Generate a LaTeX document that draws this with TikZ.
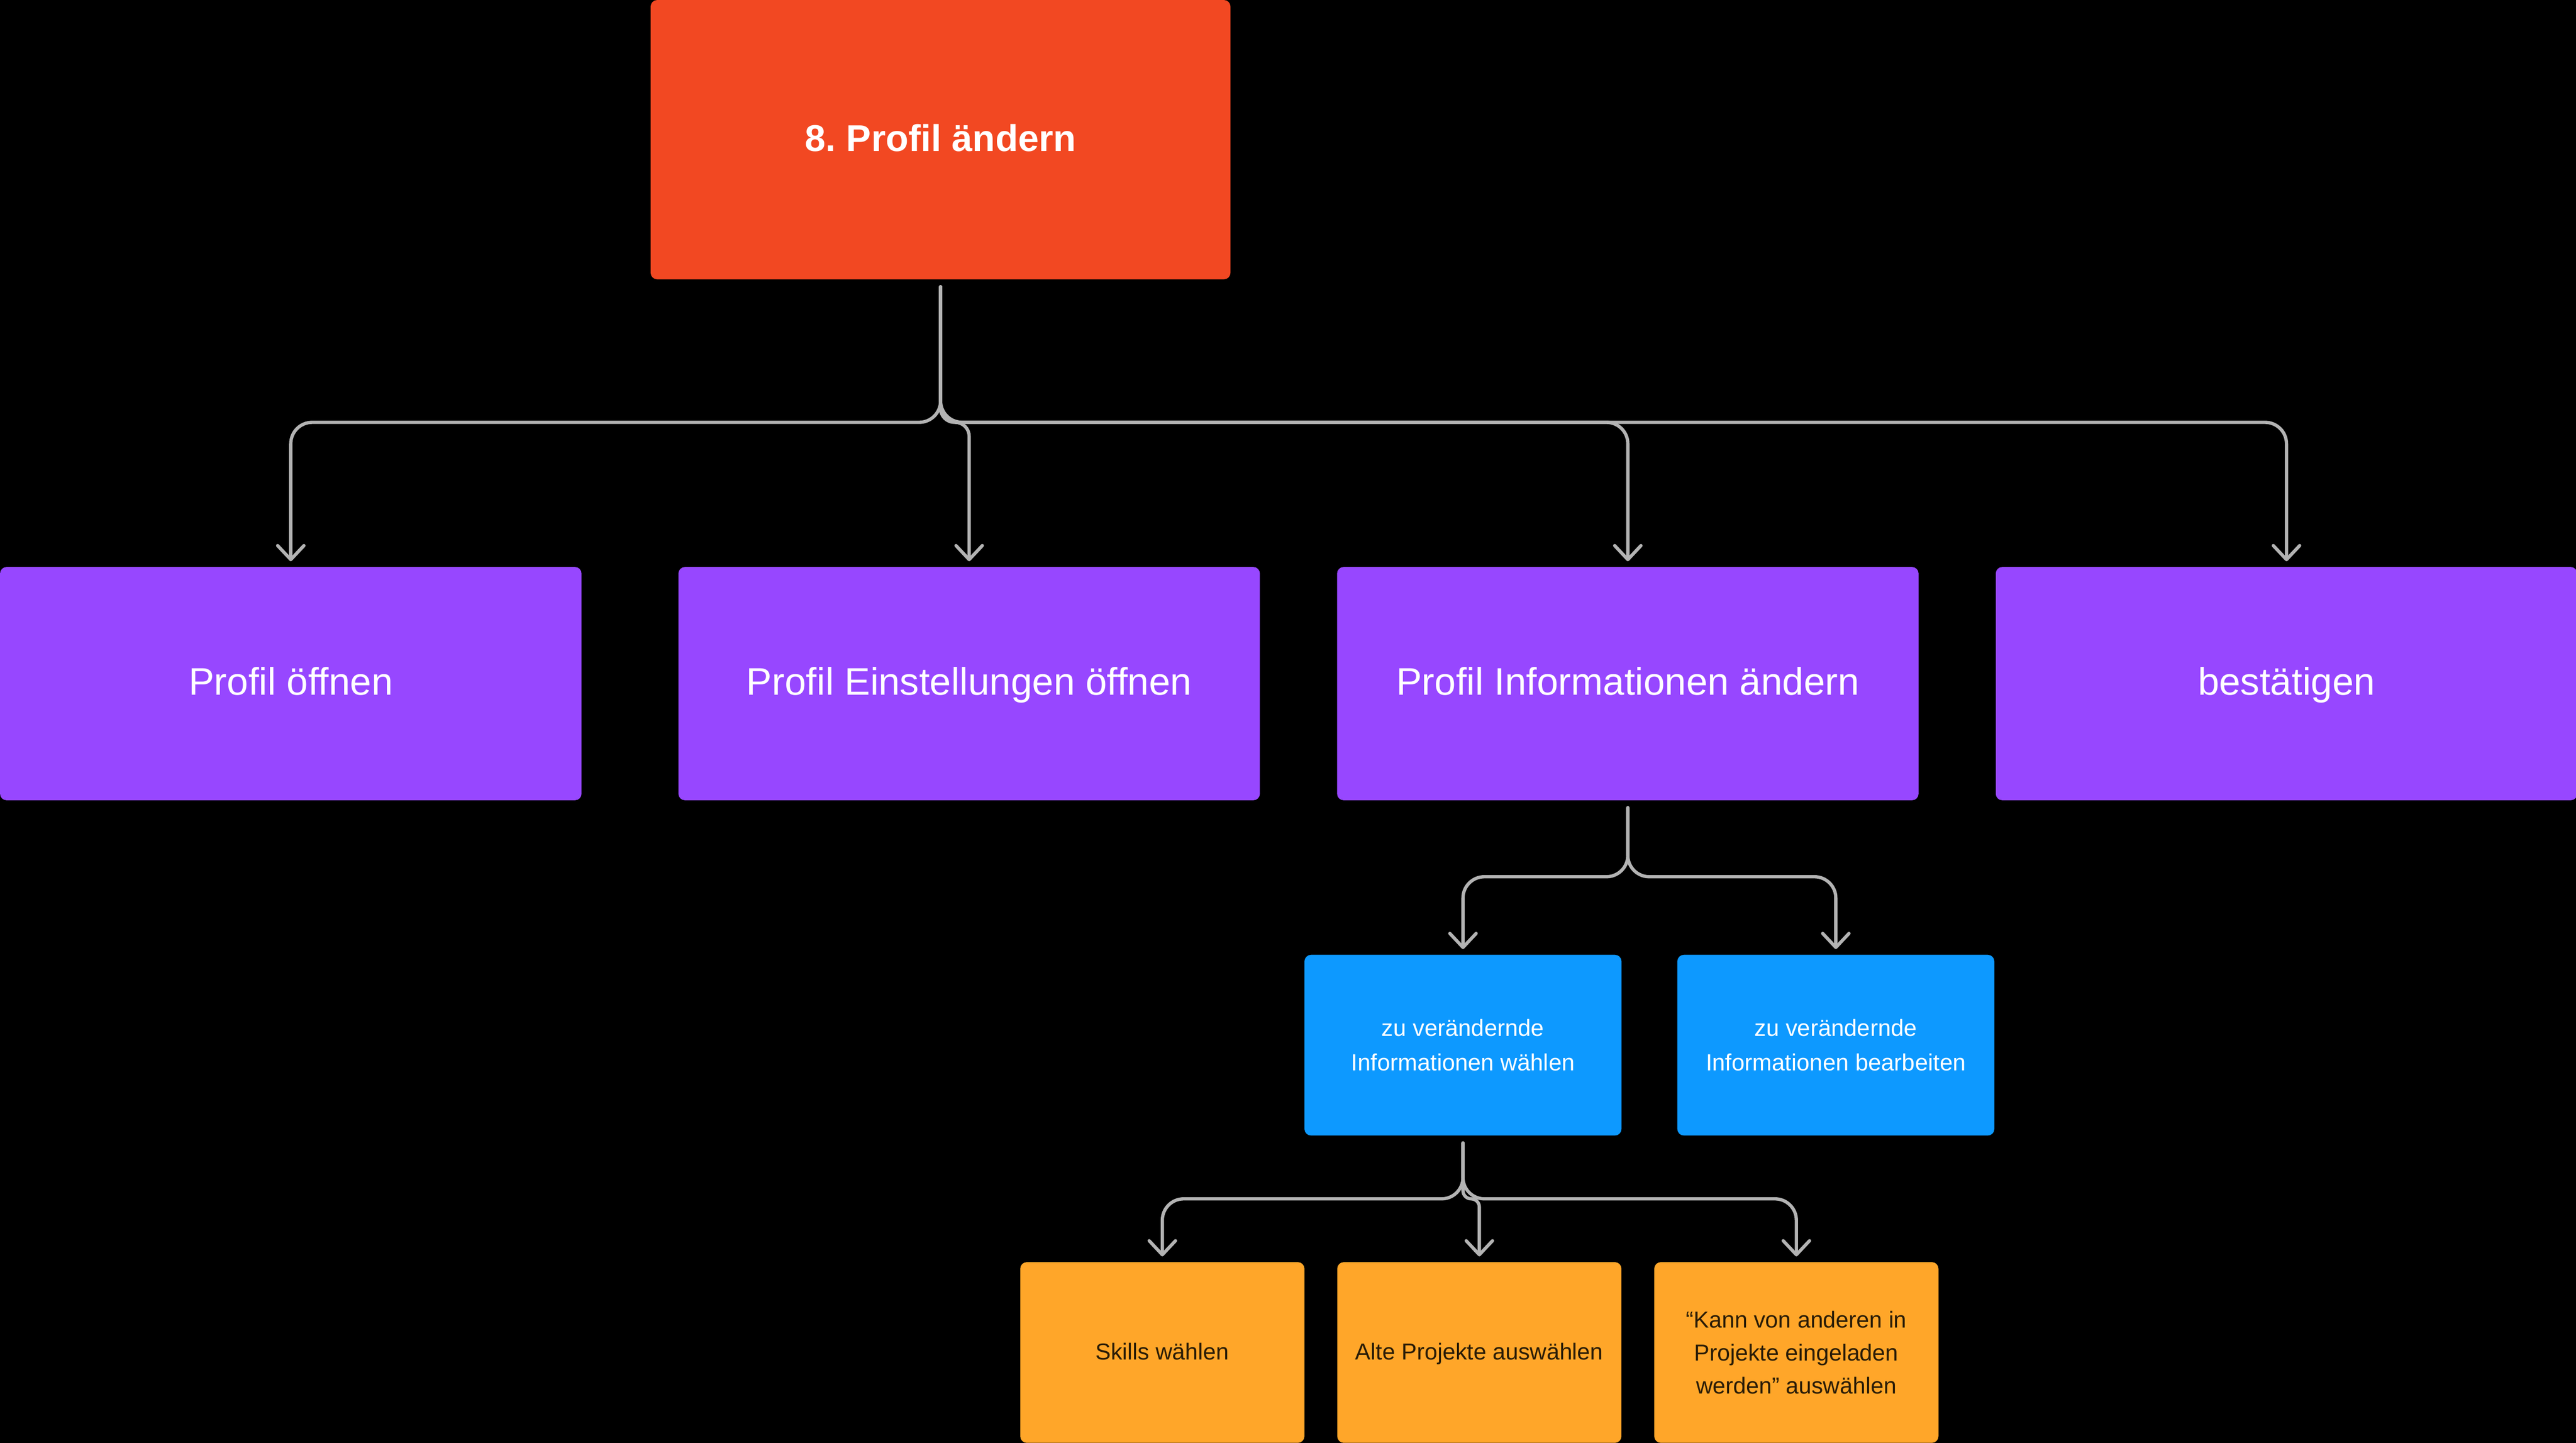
\documentclass[tikz,border=0pt]{standalone}
\usepackage{fontspec}
\setmainfont{Liberation Sans}
\usetikzlibrary{arrows.meta, positioning}

\definecolor{redbox}{HTML}{F24822}
\definecolor{purplebox}{HTML}{9747FF}
\definecolor{bluebox}{HTML}{0D99FF}
\definecolor{orangebox}{HTML}{FFA629}
\definecolor{linegray}{HTML}{B3B3B3}
\definecolor{darktext}{HTML}{2A1C07}

\begin{document}
\begin{tikzpicture}[
    x=0.02cm, y=-0.02cm,
    title/.style={rectangle, rounded corners=0.08cm, outer sep=0pt, fill=redbox, minimum width=7.06cm, minimum height=3.4cm, text height=1.0em, text depth=0.2em, text=white, font=\bfseries\fontsize{12.9}{16}\selectfont},
    task/.style={rectangle, rounded corners=0.08cm, outer sep=0pt, fill=purplebox, minimum width=7.08cm, minimum height=2.84cm, text height=1.0em, text depth=0.2em, text=white, font=\fontsize{13.3}{16}\selectfont},
    subtask/.style={rectangle, rounded corners=0.08cm, outer sep=0pt, fill=bluebox, minimum width=3.86cm, minimum height=2.2cm, text=white, align=center, font=\fontsize{8.1}{11.9}\selectfont},
    detail/.style={rectangle, rounded corners=0.08cm, outer sep=0pt, fill=orangebox, minimum width=3.46cm, minimum height=2.2cm, text=darktext, align=center, font=\fontsize{8}{11.4}\selectfont},
    oneline/.style={text height=0.75em, text depth=0.25em},
    arrow/.style={-{Straight Barb[length=0.17cm, width=0.32cm, round]}, draw=linegray, line width=0.04cm, line cap=round, rounded corners=0.26cm, shorten <=0.09cm, shorten >=0.07cm}
]

% --- Hintergrund ---
\fill[black] (0,0) rectangle (1568,878);
\useasboundingbox (0,0) rectangle (1568,878);

% --- Hauptaufgabe ---
\node (title) [title] at (572.5,85) {8.\ Profil ändern};

% --- Schritte ---
\node (open) [task] at (177,416) {Profil öffnen};
\node (settings) [task, right=1.18cm of open] {Profil Einstellungen öffnen};
\node (info) [task, right=0.94cm of settings] {Profil Informationen ändern};
\node (confirm) [task, right=0.94cm of info] {bestätigen};

% --- Unterschritte von "Profil Informationen ändern" ---
\node (choose) [subtask] at (890.5,636) {zu verändernde\\Informationen wählen};
\node (edit) [subtask, right=0.68cm of choose] {zu verändernde\\Informationen bearbeiten};

% --- Details von "Informationen wählen" ---
\node (skills) [detail, oneline] at (707.5,823) {Skills wählen};
\node (projects) [detail, oneline, right=0.4cm of skills] {Alte Projekte auswählen};
\node (invite) [detail, right=0.4cm of projects] {“Kann von anderen in\\Projekte eingeladen\\werden” auswählen};

% --- Verteiler ---
\coordinate (bus1) at (572.5,257);
\coordinate (bus2) at (990.5,533.5);
\coordinate (bus3) at (890.5,729.5);

% --- Verbindungen ---
\foreach \target in {open,info,confirm}
    \draw [arrow] (title.south) -- (title.south |- bus1) -| (\target.north);
\draw [arrow, rounded corners=0.17cm] (title.south) -- (title.south |- bus1) -| (settings.north);

\foreach \target in {choose,edit}
    \draw [arrow] (info.south) -- (info.south |- bus2) -| (\target.north);

\foreach \target in {skills,invite}
    \draw [arrow] (choose.south) -- (choose.south |- bus3) -| (\target.north);
\draw [arrow, rounded corners=0.1cm] (choose.south) -- (choose.south |- bus3) -| (projects.north);

\end{tikzpicture}
\end{document}
